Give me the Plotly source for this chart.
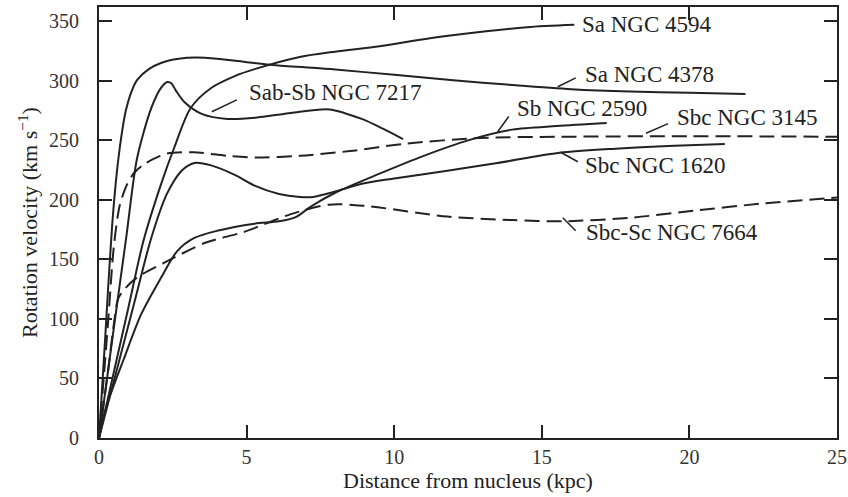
import plotly.graph_objects as go

# ---------------- data ----------------
x_4378 = [0, 0.1, 0.2, 0.3, 0.45, 0.6, 0.75, 0.9, 1.1, 1.3, 1.7, 2.1, 2.7, 3.3, 4.0, 4.9, 6, 8, 10, 12, 14, 16, 18, 20, 21.9]
v_4378 = [0, 40, 80, 122, 180, 222, 252, 274, 291, 301, 310, 315, 318.5, 319.5, 318.5, 316, 313, 309.5, 305, 300.5, 296.5, 293, 291, 290, 289]

x_4594 = [0, 0.5, 1.0, 1.5, 2.1, 2.55, 3.1, 3.8, 4.6, 5.3, 6.8, 8, 9.5, 11, 12.9, 14.5, 16.1]
v_4594 = [0, 55, 110, 165, 213, 244, 277, 294, 304, 310, 320, 324.5, 329, 335, 341, 345, 347]

x_7217 = [0, 0.5, 0.92, 1.29, 1.77, 2.1, 2.31, 2.45, 2.6, 2.9, 3.5, 4.35, 5.3, 6.5, 7.8, 8.9, 9.6, 10.3]
v_7217 = [0, 92, 168, 235, 277, 294, 299, 298, 292, 282, 272, 268, 269, 273, 276, 268, 260, 251]

x_2590 = [0, 0.27, 0.85, 1.43, 2.1, 2.65, 3.23, 4.0, 5.27, 6.1, 6.7, 7.15, 8.0, 9.5, 11, 12.5, 14, 15.5, 17.2]
v_2590 = [0, 28, 67, 104, 134.5, 157, 168, 174, 180, 182, 186, 194, 206, 222, 237, 250, 259, 262, 264.5]

x_3145 = [0, 0.3, 0.5, 0.7, 0.95, 1.2, 1.53, 1.9, 2.31, 3.2, 4.35, 5.3, 6.8, 8.5, 10.3, 12.9, 15.6, 20, 25]
v_3145 = [0, 95, 160, 195, 213, 223, 230, 235, 239, 240, 237, 235.6, 237, 241, 247, 252, 253, 253.5, 253]

x_1620 = [0, 0.6, 1.2, 1.77, 2.3, 2.8, 3.23, 3.8, 4.6, 5.27, 6.1, 6.8, 7.25, 8.0, 8.9, 10, 11.8, 13.5, 15.6, 17.5, 19.5, 21.2]
v_1620 = [0, 57, 114, 168, 205, 224.5, 231, 229, 221, 212, 205, 202.5, 202.5, 207, 213.5, 218, 224.5, 231, 239.5, 243, 245.5, 247]

x_7664 = [0, 0.3, 0.5, 0.65, 0.9, 1.3, 2.2, 3.6, 4.9, 6.5, 7.8, 9, 11.8, 14, 15.7, 18, 20.2, 22.5, 25]
v_7664 = [0, 55, 95, 117, 126, 135, 147, 164, 173, 188, 196, 195, 186, 183, 182, 185, 191, 197, 202]

x_ticks = [0, 5, 10, 15, 20, 25]
y_ticks = [0, 50, 100, 150, 200, 250, 300, 350]

# label text, label anchor (x, v) and optional leader line (x0, v0, x1, v1)
labels = [
    ("Sa NGC 4594", 16.3, 347, None),
    ("Sa NGC 4378", 16.4, 305, (15.54, 295, 16.15, 302.5)),
    ("Sab-Sb NGC 7217", 5.0, 290, (3.82, 274, 4.67, 284)),
    ("Sb NGC 2590", 14.1, 277, (13.5, 257, 13.88, 270)),
    ("Sbc NGC 3145", 19.5, 269, (18.53, 256, 19.28, 264)),
    ("Sbc NGC 1620", 16.4, 229, (15.64, 240, 16.22, 232)),
    ("Sbc-Sc NGC 7664", 16.42, 173, (15.71, 185, 16.15, 174)),
]

series = [
    ("Sa NGC 4594", x_4594, v_4594, "solid"),
    ("Sa NGC 4378", x_4378, v_4378, "solid"),
    ("Sab-Sb NGC 7217", x_7217, v_7217, "solid"),
    ("Sb NGC 2590", x_2590, v_2590, "solid"),
    ("Sbc NGC 3145", x_3145, v_3145, "15px,7px"),
    ("Sbc NGC 1620", x_1620, v_1620, "solid"),
    ("Sbc-Sc NGC 7664", x_7664, v_7664, "15px,7px"),
]

INK = "#222222"
FONT = "Liberation Serif, Times New Roman, serif"

fig = go.Figure()
for name, xs, vs, dash in series:
    fig.add_trace(go.Scatter(
        x=xs, y=vs, mode="lines", name=name,
        line=dict(color=INK, width=2, dash=dash, shape="spline", smoothing=0.8),
        hoverinfo="x+y+name",
    ))

for text, lx, ly, lead in labels:
    fig.add_annotation(x=lx, y=ly, text=text, showarrow=False,
                       xanchor="left", yanchor="middle",
                       font=dict(family=FONT, size=23, color=INK))
    if lead:
        fig.add_shape(type="line", x0=lead[0], y0=lead[1], x1=lead[2], y1=lead[3],
                      line=dict(color=INK, width=1.5))

axis_common = dict(
    showgrid=False, zeroline=False,
    showline=True, linecolor=INK, linewidth=2, mirror="ticks",
    ticks="inside", ticklen=13, tickwidth=1.5, tickcolor=INK,
    tickfont=dict(family=FONT, size=20, color="#333333"),
)

fig.update_xaxes(range=[0, 25], tickvals=x_ticks, ticktext=[str(t) for t in x_ticks],
                 ticklabelstandoff=0,
                 title=dict(text="Distance from nucleus (kpc)", standoff=3,
                            font=dict(family=FONT, size=22, color=INK)),
                 **axis_common)
fig.update_yaxes(range=[0, 362], tickvals=y_ticks, ticktext=[str(t) for t in y_ticks],
                 ticklabelstandoff=14,
                 title=dict(text="Rotation velocity (km s<sup>−1</sup>)", standoff=5,
                            font=dict(family=FONT, size=22, color=INK)),
                 **axis_common)

fig.update_layout(
    width=848, height=497,
    margin=dict(l=99, r=11, t=7, b=59, autoexpand=False),
    paper_bgcolor="white", plot_bgcolor="white",
    showlegend=False,
)

fig.write_html("out.html", config={"displayModeBar": False},
               post_script="document.body.style.margin='0';document.body.style.overflow='hidden';")
